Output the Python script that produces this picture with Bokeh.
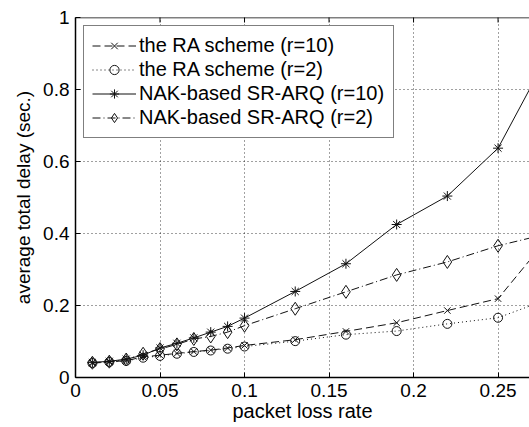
import math
from bokeh.plotting import figure
from bokeh.models import FixedTicker, Legend, LegendItem, Range1d, Span
from bokeh.embed import file_html
from bokeh.resources import INLINE

# ---- data ----
loss_rate = [0.01, 0.02, 0.03, 0.04, 0.05, 0.06, 0.07, 0.08, 0.09, 0.10,
             0.13, 0.16, 0.19, 0.22, 0.25, 0.28]
ra_r10 = [0.040, 0.043, 0.047, 0.057, 0.062, 0.067, 0.072, 0.076, 0.082, 0.089,
          0.105, 0.128, 0.152, 0.186, 0.219, 0.390]
ra_r2 = [0.040, 0.043, 0.046, 0.055, 0.060, 0.066, 0.071, 0.075, 0.080, 0.086,
         0.101, 0.119, 0.129, 0.149, 0.166, 0.218]
nak_r10 = [0.042, 0.045, 0.051, 0.062, 0.082, 0.095, 0.110, 0.126, 0.142, 0.165,
           0.239, 0.316, 0.425, 0.504, 0.637, 0.900]
nak_r2 = [0.041, 0.044, 0.050, 0.066, 0.079, 0.092, 0.107, 0.114, 0.126, 0.144,
          0.191, 0.238, 0.285, 0.321, 0.366, 0.400]

series_labels = ["the RA scheme (r=10)", "the RA scheme (r=2)",
                 "NAK-based SR-ARQ (r=10)", "NAK-based SR-ARQ (r=2)"]

x_ticks = [0, 0.05, 0.1, 0.15, 0.2, 0.25]
x_tick_labels = ["0", "0.05", "0.1", "0.15", "0.2", "0.25"]
y_ticks = [0, 0.2, 0.4, 0.6, 0.8, 1.0]
y_tick_labels = ["0", "0.2", "0.4", "0.6", "0.8", "1"]

x_label = "packet loss rate"
y_label = "average total delay (sec.)"

FONT = "Liberation Sans"
INK = "#111111"
X_END = 0.2686
Y_END = 1.0

p = figure(width=529, height=427, output_backend="svg", toolbar_location=None,
           x_range=Range1d(0, X_END), y_range=Range1d(0, Y_END),
           min_border_left=75, min_border_right=0, min_border_top=17,
           min_border_bottom=50)
p.outline_line_color = None
p.background_fill_color = "white"
p.border_fill_color = "white"

# axes
for ax in (p.xaxis[0], p.yaxis[0]):
    ax.axis_line_color = "black"
    ax.axis_line_width = 1.5
    ax.major_tick_in = 5
    ax.major_tick_out = 0
    ax.minor_tick_in = 0
    ax.minor_tick_out = 0
    ax.major_tick_line_color = "black"
    ax.major_label_text_font = FONT
    ax.major_label_text_font_size = "19px"
    ax.major_label_text_color = "black"
    ax.axis_label_text_font = FONT
    ax.axis_label_text_font_style = "normal"
    ax.axis_label_text_color = "black"

p.xaxis[0].ticker = FixedTicker(ticks=x_ticks)
p.xaxis[0].major_label_overrides = {t: l for t, l in zip(x_ticks, x_tick_labels)}
p.xaxis[0].major_label_standoff = 6
p.xaxis[0].axis_label = x_label
p.xaxis[0].axis_label_text_font_size = "20px"
p.xaxis[0].axis_label_standoff = 0

p.yaxis[0].ticker = FixedTicker(ticks=y_ticks)
p.yaxis[0].major_label_overrides = {t: l for t, l in zip(y_ticks, y_tick_labels)}
p.yaxis[0].major_label_standoff = 6
p.yaxis[0].axis_label = y_label
p.yaxis[0].axis_label_text_font_size = "19px"
p.yaxis[0].axis_label_standoff = 6

# top frame line with inward ticks (the right side is cropped in the reference)
p.add_layout(Span(location=Y_END, dimension="width", line_color="black",
                  line_width=1.5))
p.scatter(x_ticks, [Y_END] * len(x_ticks), marker="dash", angle=math.pi / 2,
          size=10, line_color="black", line_width=1)

# grid
p.xgrid.ticker = FixedTicker(ticks=x_ticks)
p.ygrid.ticker = FixedTicker(ticks=y_ticks)
for g in (p.xgrid[0], p.ygrid[0]):
    g.grid_line_color = "black"
    g.grid_line_dash = "1 3"
    g.grid_line_width = 1
    g.grid_line_alpha = 0.75

# series
specs = [
    (ra_r10, "8 4", "x", 9),
    (ra_r2, "1 3", "circle", 9),
    (nak_r10, "solid", "asterisk", 10),
    (nak_r2, "8 3 1 3", "diamond", 13),
]

items = []
for (vals, dash, marker, size), label in zip(specs, series_labels):
    lr = p.line(loss_rate, vals, line_color=INK, line_width=1, line_dash=dash)
    sr = p.scatter(loss_rate, vals, marker=marker, size=size,
                   line_color=INK, line_width=1, fill_color=None)
    items.append(LegendItem(label=label, renderers=[lr, sr]))

legend = Legend(items=items, location="top_left", margin=8,
                label_text_font=FONT, label_text_font_size="20px",
                label_text_color="black",
                border_line_color="black", border_line_width=1,
                background_fill_color="white", background_fill_alpha=1,
                padding=8, spacing=1, glyph_width=44, glyph_height=23,
                label_height=23, label_width=246, label_standoff=3)
p.add_layout(legend)

open("out.html", "w").write(file_html(p, INLINE))
